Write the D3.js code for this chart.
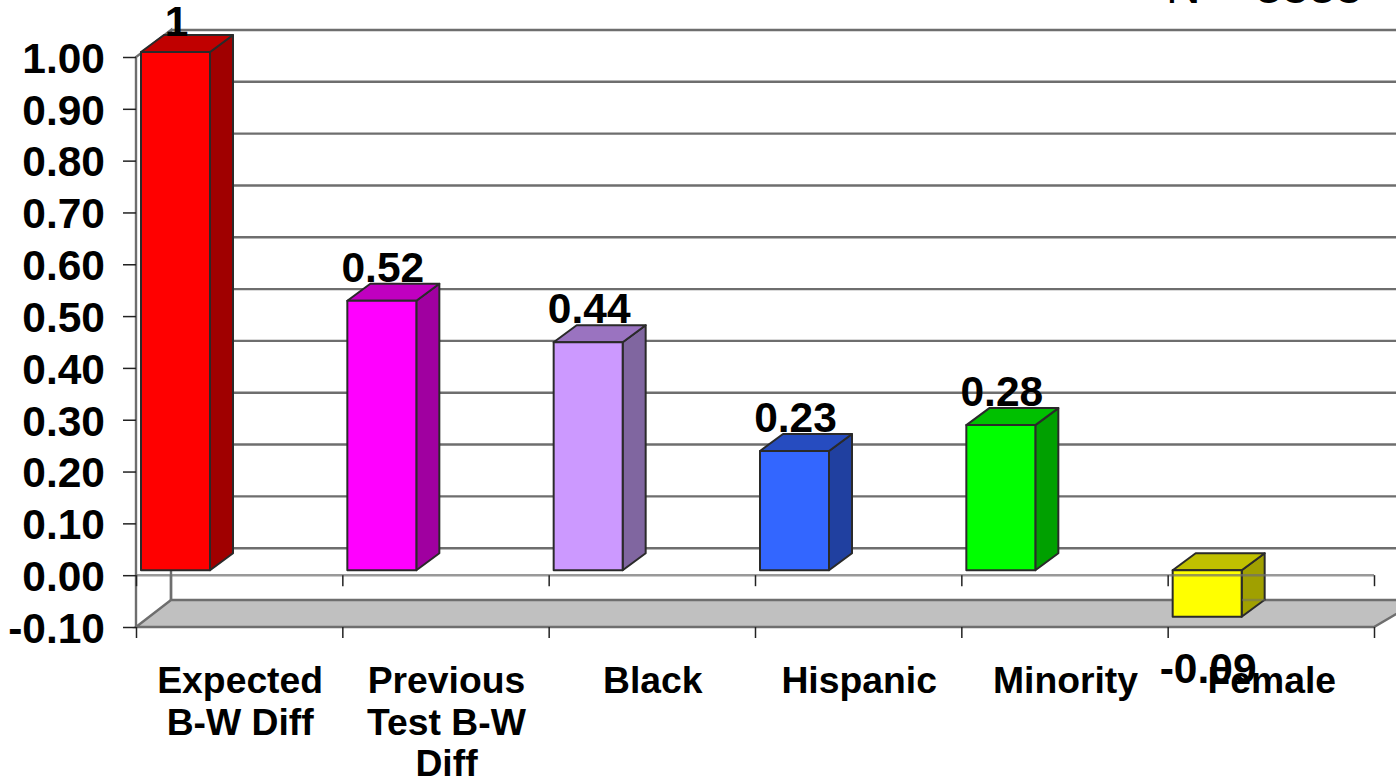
<!DOCTYPE html>
<html>
<head>
<meta charset="utf-8">
<script src="https://d3js.org/d3.v7.min.js"></script>
<style>
  html, body { margin: 0; padding: 0; background: #fff; overflow: hidden; }
  text { font-family: "Liberation Sans", Arial, sans-serif; font-weight: bold; fill: #000; }
  .grid { stroke: #6e6e6e; stroke-width: 2.4; fill: none; }
  .bar { stroke: #2a2a2a; stroke-width: 2; stroke-linejoin: round; }
  .axis path { display: none; }
  .axis line { stroke: #222; stroke-width: 1.5; }
</style>
</head>
<body>
<svg id="chart" width="1396" height="778"></svg>
<script>
// values
const categories = ["Expected B-W Diff", "Previous Test B-W Diff", "Black", "Hispanic", "Minority", "Female"];
const categoryLines = [["Expected", "B-W Diff"], ["Previous", "Test B-W", "Diff"], ["Black"], ["Hispanic"], ["Minority"], ["Female"]];
const values = [1, 0.52, 0.44, 0.23, 0.28, -0.09];
const valueLabels = ["1", "0.52", "0.44", "0.23", "0.28", "-0.09"];
const frontColors = ["#ff0000", "#ff00ff", "#cc99ff", "#3366ff", "#00ff00", "#ffff00"];
const topColors = ["#c00000", "#c000c0", "#9a73c0", "#264cc0", "#00c000", "#c0c000"];
const sideColors = ["#a00000", "#a000a0", "#8066a0", "#2040a0", "#00a000", "#a0a000"];
const yTicks = [-0.1, 0, 0.1, 0.2, 0.3, 0.4, 0.5, 0.6, 0.7, 0.8, 0.9, 1];

const svg = d3.select("#chart");

const y = d3.scaleLinear().domain([-0.1, 1]).range([627, 57]);
const x = d3.scaleBand().domain(categories).range([136, 1374]);

// the 3d look: back wall offset, and where the bars sit in the depth
const wallDx = 35, wallDy = -27;
const barInset = 5, barLift = -5, barWidth = 69, barDx = 23, barDy = -17;

const x0 = x.range()[0], x1 = x.range()[1];

// floor
svg.append("path")
    .attr("d", d3.line()([[x0, y(-0.1)], [x0 + wallDx, y(-0.1) + wallDy], [1420, y(-0.1) + wallDy], [x1, y(-0.1)]]) + "Z")
    .attr("fill", "#c0c0c0")
    .attr("stroke", "#6e6e6e")
    .attr("stroke-width", 2.4);

// grid lines on the back wall
svg.append("g").selectAll("line")
    .data(yTicks.filter(d => d >= 0))
    .join("line")
    .attr("class", "grid")
    .attr("x1", x0 + wallDx).attr("x2", 1396)
    .attr("y1", d => y(d) + wallDy).attr("y2", d => y(d) + wallDy);

// side wall edges
svg.append("path").attr("class", "grid")
    .attr("d", `M${x0},${y(-0.1)}V${y(1)}L${x0 + wallDx},${y(1) + wallDy}V${y(-0.1) + wallDy}`);

// bars
const bars = svg.append("g").selectAll("g")
    .data(values)
    .join("g");

function barBox(d, i) {
    const left = x(categories[i]) + barInset;
    const a = y(Math.max(d, 0)) + barLift;
    const b = y(Math.min(d, 0)) + barLift;
    return { left, right: left + barWidth, top: a, bottom: b };
}

bars.append("path").attr("class", "bar")
    .attr("fill", (d, i) => sideColors[i])
    .attr("d", (d, i) => {
        const r = barBox(d, i);
        return `M${r.right},${r.top}l${barDx},${barDy}V${r.bottom + barDy}l${-barDx},${-barDy}Z`;
    });
bars.append("path").attr("class", "bar")
    .attr("fill", (d, i) => topColors[i])
    .attr("d", (d, i) => {
        const r = barBox(d, i);
        return `M${r.left},${r.top}l${barDx},${barDy}H${r.right + barDx}l${-barDx},${-barDy}Z`;
    });
bars.append("rect").attr("class", "bar")
    .attr("fill", (d, i) => frontColors[i])
    .attr("x", (d, i) => barBox(d, i).left)
    .attr("y", (d, i) => barBox(d, i).top)
    .attr("width", barWidth)
    .attr("height", (d, i) => barBox(d, i).bottom - barBox(d, i).top);

// zero plane edge and floor edge show through the bars
svg.append("line").attr("class", "grid")
    .attr("x1", x0).attr("x2", x1)
    .attr("y1", y(0)).attr("y2", y(0))
    .attr("stroke-opacity", 0.7);
svg.append("line").attr("class", "grid")
    .attr("x1", 1242).attr("x2", 1265)
    .attr("y1", y(-0.1) + wallDy).attr("y2", y(-0.1) + wallDy)
    .attr("stroke-opacity", 0.5);
svg.append("line").attr("class", "grid")
    .attr("x1", x0 + wallDx).attr("x2", x0 + wallDx)
    .attr("y1", y(0)).attr("y2", y(-0.1) + wallDy);

// axes
const yAxis = d3.axisLeft(y).tickValues(yTicks).tickFormat(d3.format(".2f")).tickSize(13).tickPadding(18);
const gy = svg.append("g").attr("class", "axis").attr("transform", `translate(${x0},0)`).call(yAxis);
gy.selectAll("text")
    .text(d => d3.format(".2f")(d).replace("\u2212", "-"))
    .attr("font-size", 42.5)
    .attr("dy", "0.36em")
    .style("font-family", '"Liberation Sans", Arial, sans-serif');

const edges = d3.scalePoint().domain(d3.range(categories.length + 1)).range([x0, x1]);
[y(0), y(-0.1)].forEach(pos => {
    svg.append("g").attr("class", "axis")
        .attr("transform", `translate(0,${pos})`)
        .call(d3.axisBottom(edges).tickSize(11).tickFormat(""));
});

// value labels
bars.append("text")
    .attr("text-anchor", "middle")
    .attr("font-size", 42.5)
    .attr("x", (d, i) => barBox(d, i).left + barWidth / 2 + 1)
    .attr("y", (d, i) => d < 0 ? barBox(d, i).bottom + 66 : barBox(d, i).top - 19 + (i === 0 ? 3 : 0))
    .text((d, i) => valueLabels[i]);

// category labels
svg.append("g").selectAll("text")
    .data(categories)
    .join("text")
    .attr("text-anchor", "middle")
    .attr("font-size", 37.3)
    .attr("x", d => x(d) + x.bandwidth() / 2 + 1)
    .attr("y", 693)
    .each(function (d, i) {
        d3.select(this).selectAll("tspan")
            .data(categoryLines[i])
            .join("tspan")
            .attr("x", x(d) + x.bandwidth() / 2 + 1)
            .attr("dy", (t, j) => j === 0 ? 0 : 41.5)
            .text(t => t);
    });

// sample size note, cut off by the top of the picture
svg.append("text")
    .attr("x", 1166).attr("y", 3)
    .attr("font-size", 48)
    .style("font-weight", "normal")
    .text("N = 3838");
</script>
</body>
</html>
